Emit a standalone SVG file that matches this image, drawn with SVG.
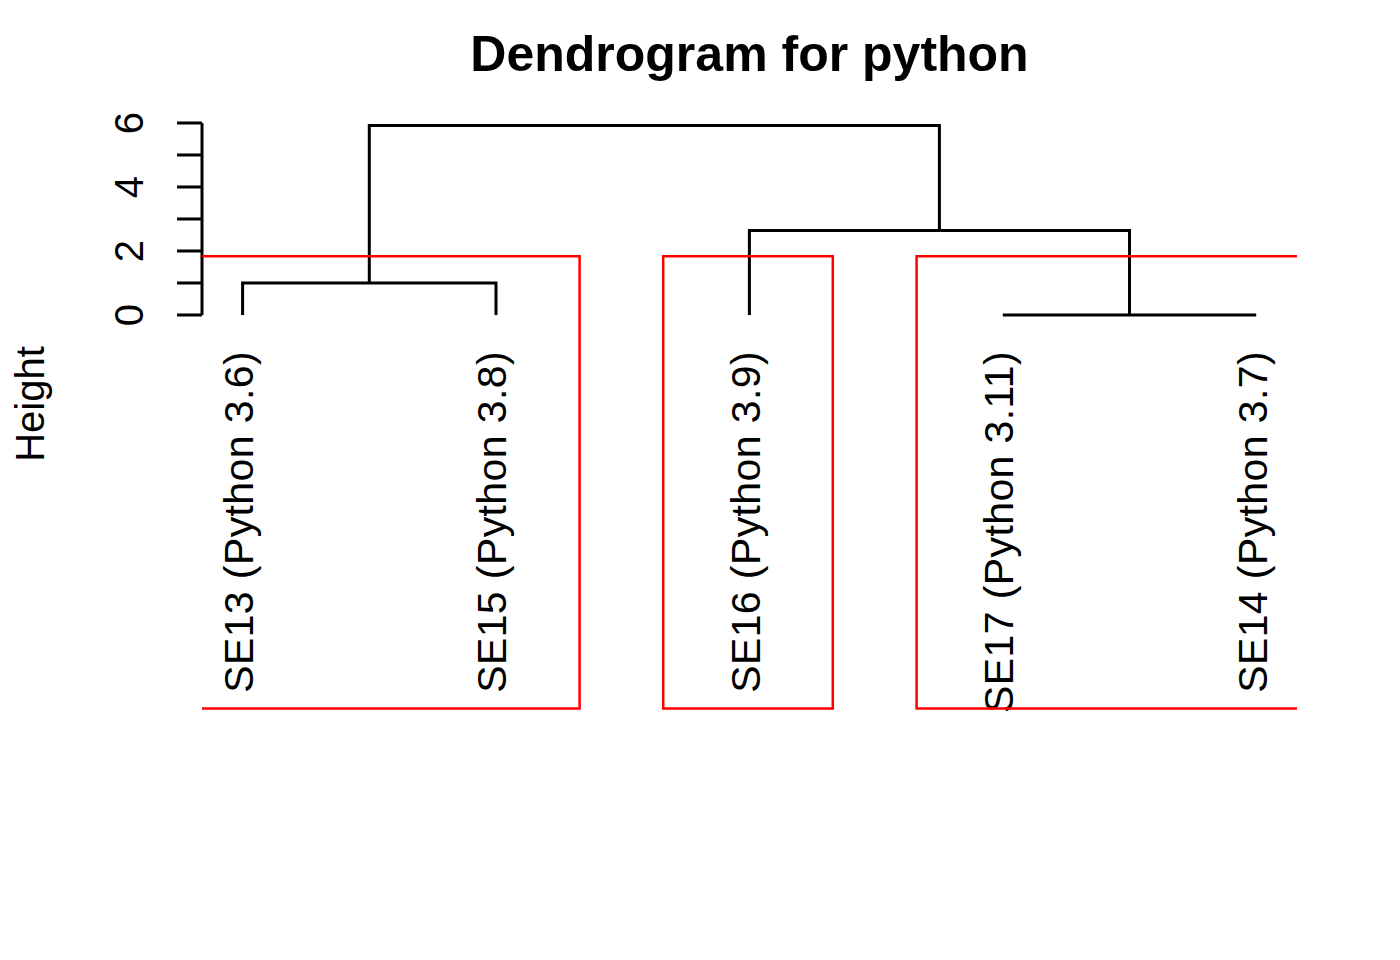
<svg xmlns="http://www.w3.org/2000/svg" width="1400" height="960" viewBox="0 0 1400 960">
<style>
.t{font-family:"Liberation Sans",Arial,sans-serif;fill:#000}
.ln{stroke:#000;stroke-width:3;fill:none;stroke-linecap:butt}
.rd{stroke:#ff0000;stroke-width:2.5;fill:none}
.lab{font-size:41px;letter-spacing:0.4px}
.tick{font-size:40px;text-anchor:middle}
</style>
<rect width="1400" height="960" fill="#fff"/>
<text class="t" x="749.5" y="71" font-size="50" font-weight="bold" text-anchor="middle">Dendrogram for python</text>
<g id="axis">
<path class="ln" d="M202 123V315M177 123H202M177 155H202M177 187H202M177 219H202M177 251H202M177 283H202M177 315H202"/>
<text class="t tick" transform="translate(143,315) rotate(-90)">0</text>
<text class="t tick" transform="translate(143,251) rotate(-90)">2</text>
<text class="t tick" transform="translate(143,187) rotate(-90)">4</text>
<text class="t tick" transform="translate(143,123) rotate(-90)">6</text>
<text class="t" font-size="40" text-anchor="middle" transform="translate(44,404) rotate(-90)">Height</text>
</g>
<g id="connectors">
<path class="ln" d="M242.6 315V283H496V315"/>
<path class="ln" d="M1002.8 315H1256.2"/>
<path class="ln" d="M749.4 315V230.5H1129.5V315"/>
<path class="ln" d="M369.3 283V125.5H939.4V230.5"/>
</g>
<g id="leaf-SE13"><text class="t lab" text-anchor="end" transform="translate(253,351) rotate(-90)">SE13 (Python 3.6)</text></g>
<g id="leaf-SE15"><text class="t lab" text-anchor="end" transform="translate(506.4,351) rotate(-90)">SE15 (Python 3.8)</text></g>
<g id="leaf-SE16"><text class="t lab" text-anchor="end" transform="translate(759.8,351) rotate(-90)">SE16 (Python 3.9)</text></g>
<g id="leaf-SE17"><text class="t lab" text-anchor="end" transform="translate(1013.2,351) rotate(-90)">SE17 (Python 3.11)</text></g>
<g id="leaf-SE14"><text class="t lab" text-anchor="end" transform="translate(1266.6,351) rotate(-90)">SE14 (Python 3.7)</text></g>
<g id="clusters">
<path class="rd" d="M202 256.3H579.6V708.5H202"/>
<path class="rd" d="M663.2 256.3H832.8V708.5H663.2Z"/>
<path class="rd" d="M1297 256.3H916.6V708.5H1297"/>
</g>
</svg>
